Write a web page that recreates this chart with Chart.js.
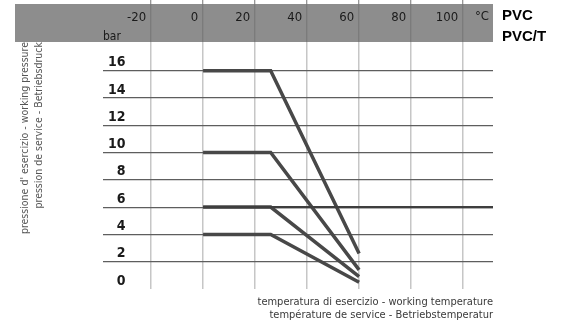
<!DOCTYPE html>
<html><head><meta charset="utf-8">
<script src="https://cdn.jsdelivr.net/npm/chart.js@4.4.0/dist/chart.umd.min.js"></script>
<style>html,body{margin:0;padding:0;background:#fff}canvas{display:block}</style>
</head><body>
<canvas id="c" width="562" height="320"></canvas>
<script>
// ---- data ----
const tempTicks = [-20, 0, 20, 40, 60, 80, 100];
const pressureTicks = [0, 2, 4, 6, 8, 10, 12, 14, 16];
const temps = [0, 26, 60];
const pn16 = [16, 16, 2.6];
const pn10 = [10, 10, 1.4];
const pn6 = [6, 6, 0.9];
const pn4 = [4, 4, 0.5];
const flatTemps = [0, 111.5];
const flat6 = [6, 6];
const seriesNames = ['PN16', 'PN10', 'PN6', 'PN4', '6 bar'];
const tempUnit = '°C';
const pressureUnit = 'bar';
const materials = ['PVC', 'PVC/T'];
const yTitle = ["pressione d' esercizio - working pressure", "pression de service - Betriebsdruck"];
const xTitle = ["temperatura di esercizio - working temperature", "température de service - Betriebstemperatur"];
const xMin = -38.5, xMax = 111.5, yMin = 0, yMax = 18.1;

const NARROW = "'Liberation Sans Narrow','DejaVu Sans Condensed',sans-serif";
Chart.defaults.font.family = NARROW;

function mk(name, xs, vals, width, color) {
  return {
    label: name,
    data: xs.map((t, i) => ({x: t, y: vals[i]})),
    borderColor: color, borderWidth: width, pointRadius: 0, fill: false,
    tension: 0, borderCapStyle: 'butt', clip: false, xAxisID: 'x', yAxisID: 'y'
  };
}

const header = {
  id: 'header',
  beforeDraw(chart) {
    const {ctx, chartArea: a} = chart;
    ctx.save();
    ctx.fillStyle = '#8d8d8d';
    ctx.fillRect(15, 4, a.right - 15, a.top - 4);
    ctx.restore();
  },
  afterDraw(chart) {
    const {ctx, chartArea: a} = chart;
    ctx.save();
    ctx.fillStyle = '#1a1a1a';
    ctx.font = '12px ' + NARROW;
    ctx.textAlign = 'left'; ctx.textBaseline = 'alphabetic';
    ctx.fillText(pressureUnit, a.left, 39.5);
    ctx.font = '13px ' + NARROW;
    ctx.textAlign = 'right'; ctx.textBaseline = 'middle';
    ctx.fillText(tempUnit, a.right - 4, 17);
    ctx.fillStyle = '#000';
    ctx.font = "bold 15px 'Liberation Sans', Arial, sans-serif";
    ctx.textAlign = 'left'; ctx.textBaseline = 'alphabetic';
    ctx.fillText(materials[0], a.right + 9, 19.5);
    ctx.fillText(materials[1], a.right + 9, 41);
    ctx.restore();
  }
};

new Chart(document.getElementById('c'), {
  type: 'line',
  data: { datasets: [
    mk(seriesNames[4], flatTemps, flat6, 2.2, '#3e3e3e'),
    mk(seriesNames[0], temps, pn16, 3.5, '#484848'),
    mk(seriesNames[1], temps, pn10, 3.5, '#484848'),
    mk(seriesNames[2], temps, pn6, 3.5, '#484848'),
    mk(seriesNames[3], temps, pn4, 3.5, '#484848')
  ] },
  options: {
    responsive: false, animation: false, devicePixelRatio: 1,
    layout: { padding: { left: 10, right: 69, top: 0, bottom: 0 } },
    plugins: { legend: { display: false }, tooltip: { enabled: false } },
    scales: {
      x: {
        type: 'linear', position: 'top', min: xMin, max: xMax,
        afterBuildTicks: s => { s.ticks = tempTicks.map(v => ({value: v})); },
        afterFit: s => { s.height = 42; },
        grid: { color: '#c6c6c6', lineWidth: 1.5, drawTicks: true, tickLength: 42, tickColor: '#767676', tickWidth: 1 },
        border: { display: false },
        ticks: { align: 'end', labelOffset: -5, padding: -25, color: '#1a1a1a', font: { size: 13 }, maxRotation: 0, autoSkip: false }
      },
      x2: {
        type: 'linear', position: 'bottom', min: xMin, max: xMax,
        afterFit: s => { s.height = 31; },
        grid: { display: false, drawTicks: false }, border: { display: false }, ticks: { display: false },
        title: { display: true, text: xTitle, align: 'end', color: '#3a3a3a', font: { size: 11, lineHeight: 1.2 }, padding: { top: 0, bottom: -2 } }
      },
      y: {
        type: 'linear', position: 'left', min: yMin, max: yMax,
        afterBuildTicks: s => { s.ticks = pressureTicks.map(v => ({value: v})); },
        afterFit: s => { s.width = 93; },
        grid: {
          drawTicks: false,
          color: c => (c.tick && c.tick.value === 0) ? 'rgba(0,0,0,0)' : '#5e5e5e',
          lineWidth: 1.2
        },
        border: { display: false },
        ticks: { mirror: true, crossAlign: 'far', padding: 5, labelOffset: -8, color: '#1a1a1a', font: { size: 14, weight: 'bold' } },
        title: { display: true, text: yTitle, align: 'end', color: '#555', font: { size: 10.5, lineHeight: 1.35 }, padding: { top: 8, bottom: 0 } }
      }
    }
  },
  plugins: [header]
});
</script>
</body></html>
